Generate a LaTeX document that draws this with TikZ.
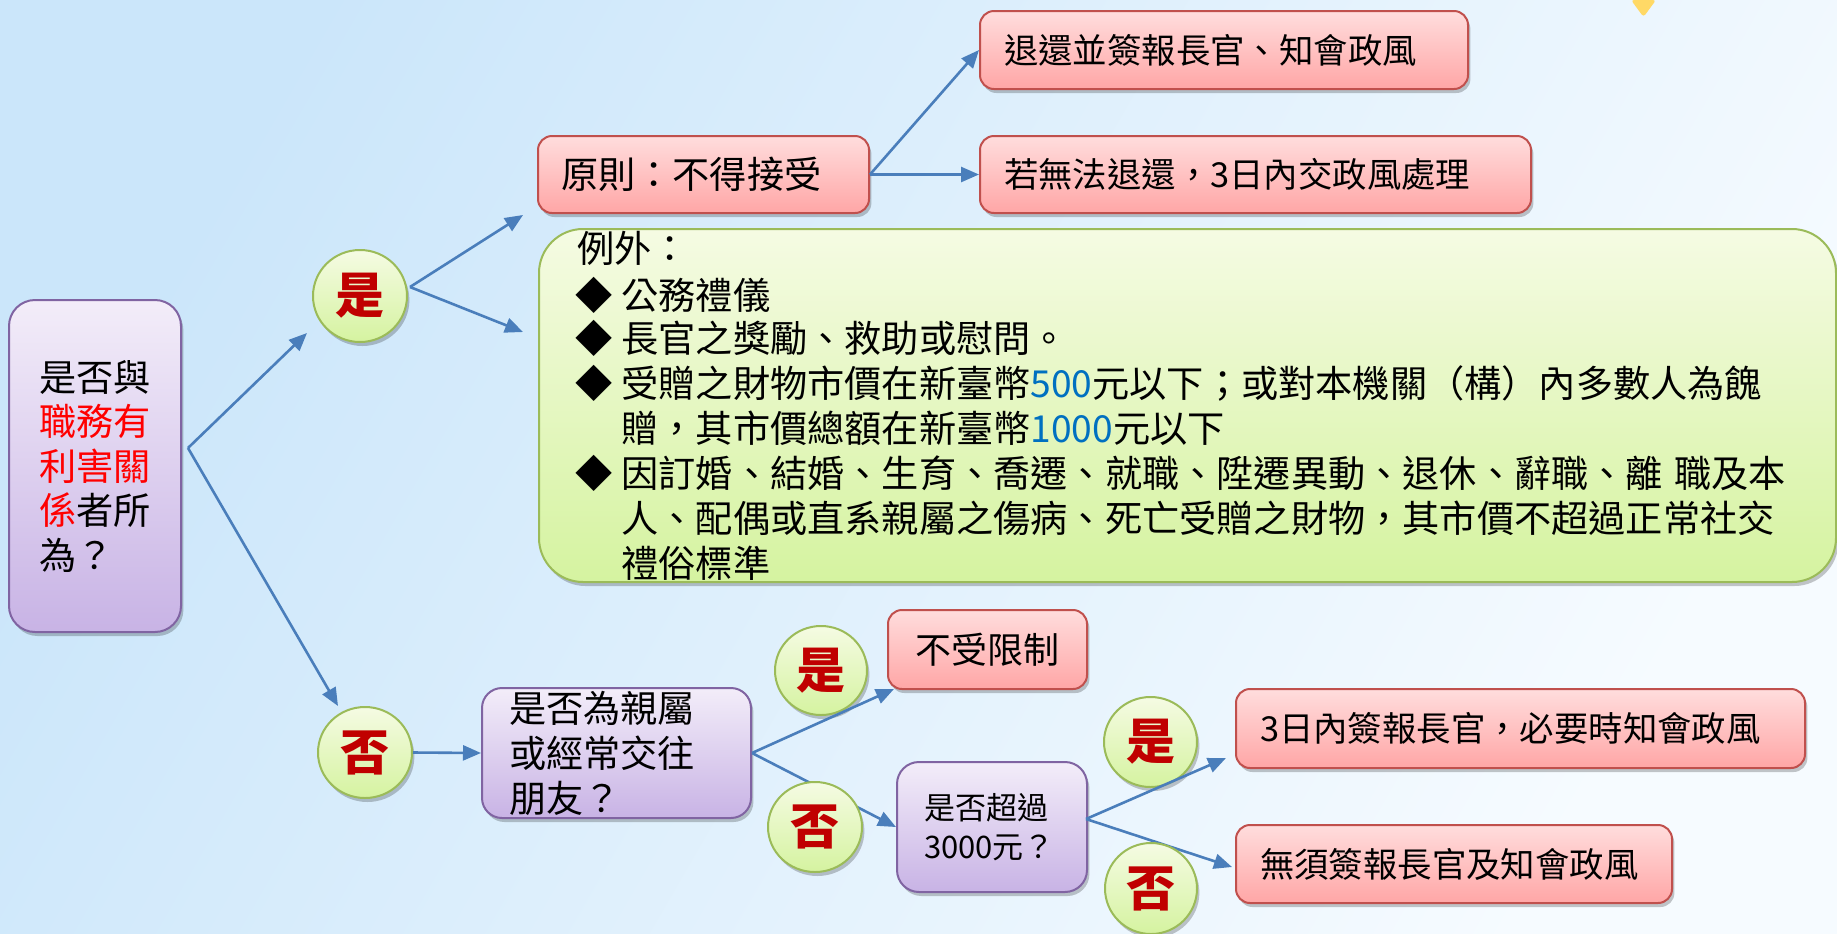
\documentclass[tikz,border=0pt]{standalone}
\usepackage{fontspec}
\setmainfont{Noto Sans CJK TC}
\usetikzlibrary{arrows.meta,shapes.geometric,shadows}
\definecolor{arrowblue}{HTML}{4A7EBB}
\definecolor{redborder}{HTML}{C0504D}
\definecolor{redtop}{HTML}{FFDDDD}
\definecolor{redbot}{HTML}{FFA6A6}
\definecolor{purpborder}{HTML}{8064A2}
\definecolor{purptop}{HTML}{F3EDF9}
\definecolor{purpbot}{HTML}{C8B3E5}
\definecolor{grnborder}{HTML}{9BBB59}
\definecolor{grntop}{HTML}{F5FBE3}
\definecolor{grnbot}{HTML}{D5F3A0}
\definecolor{darkred}{HTML}{C00000}
\definecolor{numblue}{HTML}{0070C0}
\definecolor{triyellow}{HTML}{FFD966}
\definecolor{bgUL}{HTML}{CBE6FA}
\definecolor{bgLR}{HTML}{F6FBFF}
\tikzset{
  shadowed/.style={drop shadow={shadow xshift=1.2pt, shadow yshift=-2pt, opacity=0.22, fill=black}},
  redbox/.style={shadowed, draw=redborder, line width=1pt, rounded corners=7pt,
    top color=redtop, bottom color=redbot, inner ysep=0pt, align=left,
    font=\fontsize{17.2pt}{21pt}\selectfont},
  purpbox/.style={shadowed, draw=purpborder, line width=1pt,
    top color=purptop, bottom color=purpbot, align=left},
  yn/.style={shadowed, ellipse, draw=grnborder, line width=1pt,
    top color=grntop, bottom color=grnbot, inner sep=0pt, text=darkred,
    font=\fontsize{24.5pt}{24.5pt}\selectfont\bfseries},
  arr/.style={draw=arrowblue, line width=1.3pt, -{Triangle[length=9pt,width=7.5pt]}},
  ln/.style={anchor=west, inner sep=0pt, font=\fontsize{18.6pt}{22.5pt}\selectfont},
}
\begin{document}
\begin{tikzpicture}[x=0.5pt,y=-0.5pt]
\useasboundingbox (0,0) rectangle (1837,933);
\node[inner sep=0pt, outer sep=0pt, minimum width=918.5pt, minimum height=466.5pt,
  top color=bgUL, bottom color=bgLR, shading angle=60] (bg) at (918.5,466.5) {};
% small yellow triangle at top
\fill[triyellow, rounded corners=1.5pt] (1631,0) -- (1656,0) -- (1643.5,17) -- cycle;

% left question
\node[purpbox, rounded corners=13pt, minimum width=86pt, minimum height=166pt, inner sep=0pt,
  font=\fontsize{18.6pt}{22.25pt}\selectfont] (q1) at (95,466)
  {是否與\\{\color{red}職務有}\\{\color{red}利害關}\\{\color{red}係}者所\\為？};

% yes / no circles of first level
\node[yn, minimum width=47pt, minimum height=46pt] (yes1) at (360,296) {是};
\node[yn, minimum width=47pt, minimum height=45.5pt] (no1) at (365,752.5) {否};

% principle branch
\node[redbox, minimum height=38.5pt, inner xsep=11.5pt, text width=142.5pt,
  font=\fontsize{18.6pt}{22pt}\selectfont] (p1) at (703.5,174.5) {原則：不得接受};
\node[redbox, minimum height=39pt, inner xsep=12pt, text width=220pt] (r1) at (1224,50) {退還並簽報長官、知會政風};
\node[redbox, minimum height=38.5pt, inner xsep=12pt, text width=251.5pt] (r2) at (1255.5,174.5) {若無法退還，3日內交政風處理};

% exception box
\node[shadowed, draw=grnborder, line width=1pt, rounded corners=22pt, top color=grntop, bottom color=grnbot,
  minimum width=648.5pt, minimum height=176.5pt, inner sep=0pt] (exc) at (1187.5,405.5) {};
\node[ln] (e0) at (577,248) {例外：};
\node[ln, anchor=center] (b1) at (594,295) {◆};
\node[ln] (l1) at (621,295) {公務禮儀};
\node[ln, anchor=center] (b2) at (594,338) {◆};
\node[ln] (l2) at (621,338) {長官之獎勵、救助或慰問。};
\node[ln, anchor=center] (b3) at (594,383) {◆};
\node[ln] (l3) at (621,383) {受贈之財物市價在新臺幣{\color{numblue}500}元以下；或對本機關（構）內多數人為餽};
\node[ln] (l4) at (621,428) {贈，其市價總額在新臺幣{\color{numblue}1000}元以下};
\node[ln, anchor=center] (b4) at (594,473) {◆};
\node[ln] (l5) at (621,473) {因訂婚、結婚、生育、喬遷、就職、陞遷異動、退休、辭職、離\hspace{0.3em}職及本};
\node[ln] (l6) at (621,518) {人、配偶或直系親屬之傷病、死亡受贈之財物，其市價不超過正常社交};
\node[ln] (l7) at (621,563) {禮俗標準};

% no branch
\node[purpbox, rounded corners=10pt, minimum height=65pt, inner xsep=13.5pt, inner ysep=0pt, text width=107.5pt,
  font=\fontsize{18.6pt}{22.5pt}\selectfont] (q2) at (616.5,753) {是否為親屬\\或經常交往\\朋友？};
\node[yn, minimum width=46pt, minimum height=44.5pt] (yes2) at (821,670.5) {是};
\node[redbox, minimum width=99.5pt, minimum height=39.5pt, align=center, inner xsep=0pt,
  font=\fontsize{18pt}{22pt}\selectfont] (s1) at (987.5,649.5) {不受限制};
\node[purpbox, rounded corners=11pt, minimum height=65pt, inner xsep=13.5pt, inner ysep=0pt, text width=68pt,
  font=\fontsize{15.5pt}{19.5pt}\selectfont] (q3) at (992,827) {是否超過\\3000元？};
\node[yn, minimum width=46.5pt, minimum height=45pt] (yes3) at (1150.5,742) {是};
\node[redbox, minimum height=39.5pt, inner xsep=12pt, text width=260.5pt] (y3) at (1520.5,728.5) {3日內簽報長官，必要時知會政風};
\node[redbox, minimum height=39pt, inner xsep=12pt, text width=194pt] (n3) at (1454,864) {無須簽報長官及知會政風};

% connectors
\coordinate (j1) at (188,448);
\coordinate (t1) at (307,333);
\coordinate (t2) at (338,706);
\coordinate (j2) at (410,287);
\coordinate (t3) at (523,215);
\coordinate (t4) at (523,332);
\coordinate (t5) at (894,689);
\coordinate (j5) at (1086,819);
\coordinate (t6) at (1226,758);
\coordinate (t7) at (1232,867);
\draw[arr] (j1) -- (t1);
\draw[arr] (j1) -- (t2);
\draw[arr] (j2) -- (t3);
\draw[arr] (j2) -- (t4);
\draw[arr] (p1.east) -- (r1.west);
\draw[arr] (p1.east) -- (r2.west);
\draw[arr] (no1.east) -- (q2.west);
\draw[arr] (q2.east) -- (t5);
\draw[arr] (q2.east) -- (q3.west);
\draw[arr] (j5) -- (t6);
\draw[arr] (j5) -- (t7);

% circles drawn above their connector
\node[yn, minimum width=47pt, minimum height=45pt] (no2) at (815,827) {否};
\node[yn, minimum width=46pt, minimum height=45.5pt] (no3) at (1151,888.5) {否};
\end{tikzpicture}
\end{document}
